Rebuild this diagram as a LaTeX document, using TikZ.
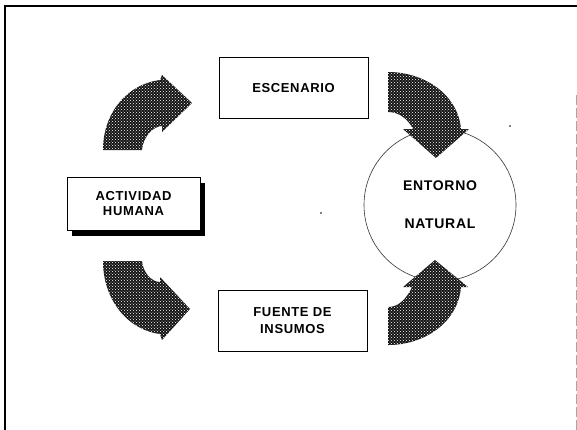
\documentclass[tikz,border=0pt]{standalone}
\usepackage{fontspec}
\setmainfont{Liberation Sans}[LetterSpace=5]
\usetikzlibrary{patterns,shadows}
\tikzset{
  box/.style={draw=black, line width=0.8pt, fill=white, minimum width=149pt, minimum height=61pt, inner sep=0pt, align=center, font=\bfseries\fontsize{13}{17}\selectfont},
  shbox/.style={box, minimum width=133pt, minimum height=53pt, font=\bfseries\fontsize{13}{14.5}\selectfont,
     drop shadow={shadow xshift=4.5pt, shadow yshift=-5.5pt, fill=black, opacity=1}},
  circ/.style={circle, draw=black!80, line width=0.6pt, minimum size=152pt, inner sep=0pt, align=center, font=\bfseries\fontsize{14}{38}\selectfont},
  arrowfill/.style={fill=black!92},
  arrowdots/.style={pattern=crosshatch dots, pattern color=white},
  speck/.style={fill=black}
}
\begin{document}
\begin{tikzpicture}[x=1pt,y=-1pt]
\useasboundingbox (0,0) rectangle (577,429);
% frame
\draw[line width=1.8pt] (5,432) -- (5,6) -- (580,6);
\draw[black!35, line width=0.8pt, dash pattern=on 10pt off 3pt] (576,95) -- (576,432);
% nodes
\node[box] (esc) at (293.5,88) {ESCENARIO};
\node[box] (fue) at (292.5,321) {FUENTE DE\\INSUMOS};
\node[shbox] (act) at (133.5,203.5) {ACTIVIDAD\\HUMANA};
\node[circ] (ent) at (440,205) {ENTORNO\\NATURAL};
% curved arrows
\def\tl{(103,150) .. controls (103,112) and (128,84) .. (160,80) -- (162,75) -- (192,103) -- (162,132) -- (162,126) .. controls (154,126) and (143,136) .. (142,150) -- cycle}
\def\bl{(103,261) .. controls (103,300) and (128,330) .. (160,334) -- (162,340) -- (190,309) -- (160,277) -- (160,282) .. controls (152,282) and (143,273) .. (142,261) -- cycle}
\def\tr{(388,72) .. controls (425,72) and (458,95) .. (461,129) -- (469,129) -- (436,158) -- (403,129) -- (413,129) .. controls (408,119) and (399,112) .. (388,112) -- cycle}
\def\br{(388,345) .. controls (425,345) and (458,322) .. (461,287) -- (468,287) -- (435,260) -- (403,287) -- (412,287) .. controls (407,298) and (399,307) .. (388,307) -- cycle}
\foreach \p in {\tl,\bl,\tr,\br}{
  \fill[arrowfill] \p;
  \fill[arrowdots] \p;
}
% specks
\fill[speck] (510,126) circle (0.9pt);
\fill[speck] (321,213) circle (0.9pt);
\end{tikzpicture}
\end{document}
